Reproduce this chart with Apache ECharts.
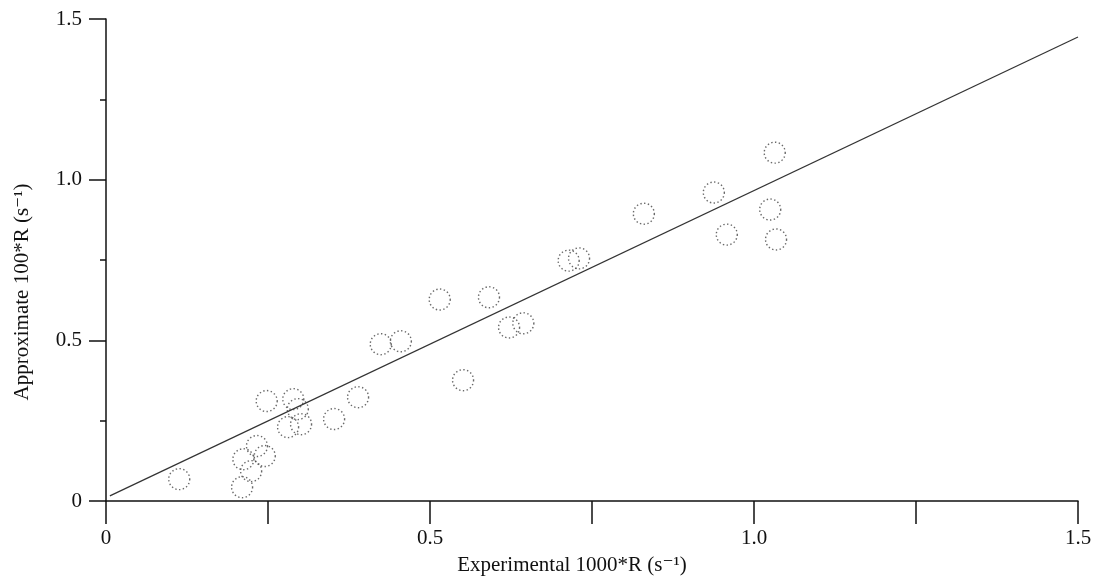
<!DOCTYPE html>
<html>
<head>
<meta charset="utf-8">
<script src="https://cdn.jsdelivr.net/npm/echarts@6/dist/echarts.min.js"></script>
<style>
html,body{margin:0;padding:0;background:#fff;}
#chart{width:1096px;height:581px;}
</style>
</head>
<body>
<div id="chart"></div>
<script>
// Data
var expX    = [0.113, 0.210, 0.212, 0.224, 0.233, 0.245, 0.248, 0.281, 0.289, 0.296, 0.301, 0.352, 0.389, 0.424, 0.455, 0.515, 0.551, 0.591, 0.622, 0.644, 0.714, 0.730, 0.830, 0.938, 0.958, 1.025, 1.032, 1.034];
var approxY = [0.068, 0.043, 0.130, 0.093, 0.171, 0.140, 0.311, 0.230, 0.317, 0.286, 0.239, 0.255, 0.323, 0.488, 0.497, 0.627, 0.376, 0.634, 0.540, 0.553, 0.748, 0.755, 0.894, 0.960, 0.829, 0.907, 1.084, 0.814];
var fitLineX = [0.006, 1.5];
var fitLineY = [0.016, 1.444];
var xTickValues = [0, 0.5, 1.0, 1.5];
var xTickLabels = ['0', '0.5', '1.0', '1.5'];
var yTickValues = [0, 0.5, 1.0, 1.5];
var yTickLabels = ['0', '0.5', '1.0', '1.5'];
var xAxisTitle = 'Experimental 1000*R (s\u207B\u00B9)';
var yAxisTitle = 'Approximate 100*R (s\u207B\u00B9)';

function labelFor(values, labels) {
  return function (v) {
    for (var i = 0; i < values.length; i++) {
      if (Math.abs(values[i] - v) < 1e-6) return labels[i];
    }
    return '';
  };
}

var points = expX.map(function (x, i) { return [x, approxY[i]]; });
var linePts = fitLineX.map(function (x, i) { return [x, fitLineY[i]]; });

var font = '"Liberation Serif", "DejaVu Serif", serif';
var chart = echarts.init(document.getElementById('chart'), null, {renderer: 'canvas'});
chart.setOption({
  animation: false,
  backgroundColor: '#ffffff',
  grid: {left: 106, right: 18, top: 19, bottom: 79, containLabel: false},
  xAxis: {
    type: 'value', min: 0, max: 1.5, interval: 0.25,
    name: xAxisTitle, nameLocation: 'middle', nameGap: 54,
    nameTextStyle: {fontFamily: font, fontSize: 21, color: '#111', padding: [0, 40, 0, 0]},
    axisLine: {show: true, onZero: false, lineStyle: {color: '#111', width: 1.5}},
    axisTick: {show: true, inside: false, length: 23, lineStyle: {color: '#111', width: 1.5}},
    axisLabel: {margin: 27, fontFamily: font, fontSize: 21, color: '#111', formatter: labelFor(xTickValues, xTickLabels)},
    splitLine: {show: false}
  },
  yAxis: {
    type: 'value', min: 0, max: 1.5, interval: 0.5,
    name: yAxisTitle, nameLocation: 'middle', nameGap: 73, nameRotate: 90,
    nameTextStyle: {fontFamily: font, fontSize: 21, color: '#111', padding: [0, 64, 0, 0]},
    axisLine: {show: true, onZero: false, lineStyle: {color: '#111', width: 1.5}},
    axisTick: {show: true, inside: false, length: 17, lineStyle: {color: '#111', width: 1.5}},
    minorTick: {show: true, splitNumber: 2, length: 6, lineStyle: {color: '#111', width: 1.5}},
    axisLabel: {margin: 24, fontFamily: font, fontSize: 21, color: '#111', formatter: labelFor(yTickValues, yTickLabels)},
    splitLine: {show: false}
  },
  series: [
    {
      type: 'line', data: linePts, showSymbol: false, symbol: 'none',
      lineStyle: {color: '#333', width: 1.2}, z: 2, silent: true
    },
    {
      type: 'scatter', data: points, symbol: 'circle', symbolSize: 21,
      itemStyle: {color: 'rgba(255,255,255,0)', borderColor: '#444', borderWidth: 1.4, borderType: [1.4, 2.4]},
      z: 3
    }
  ]
});
</script>
</body>
</html>
